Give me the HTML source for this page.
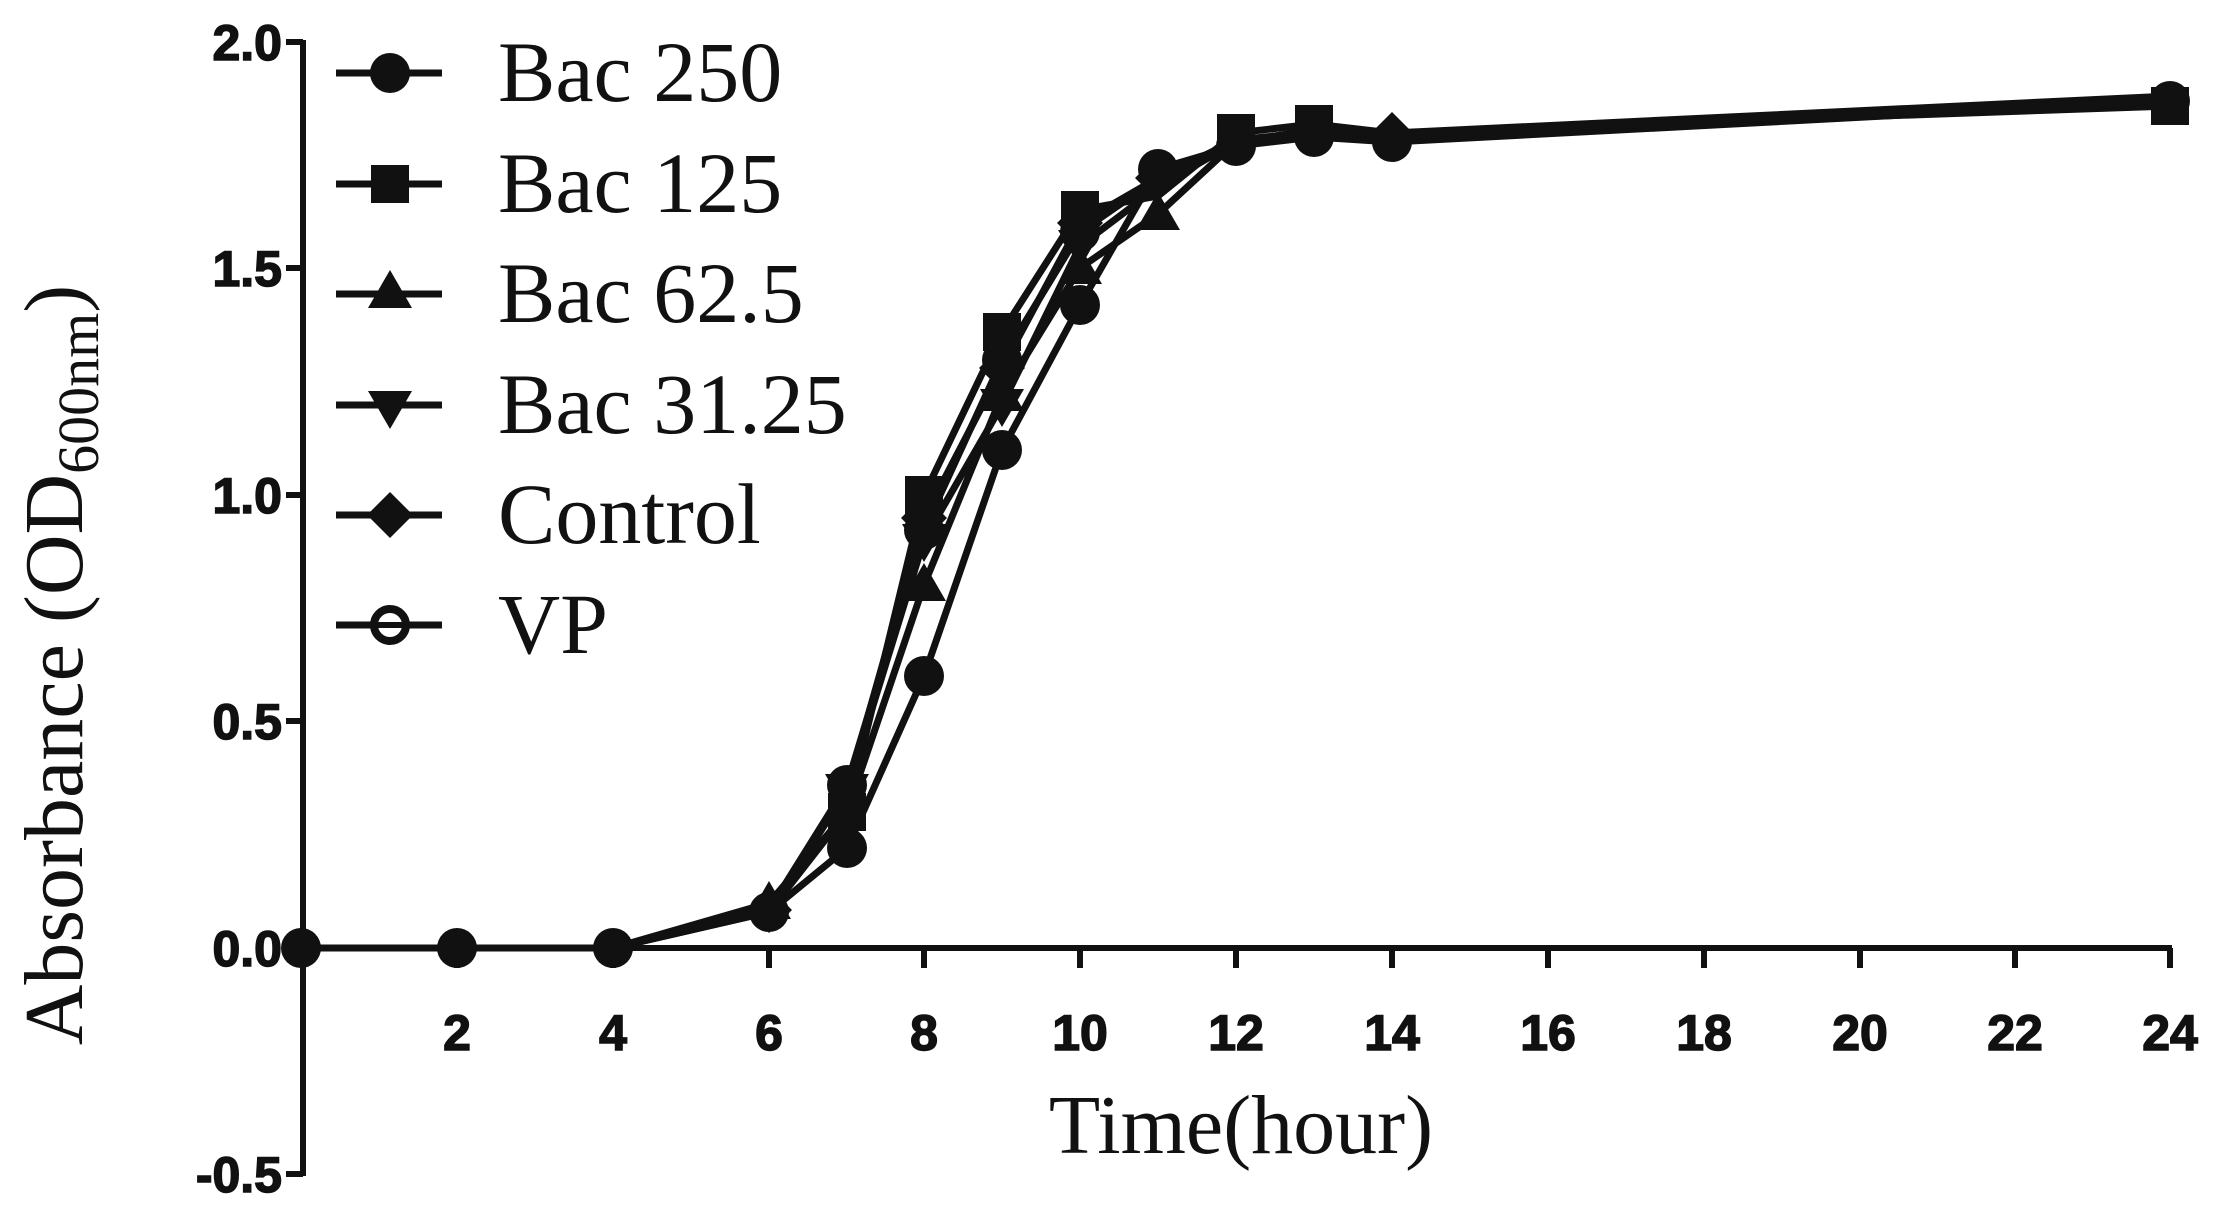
<!DOCTYPE html>
<html><head><meta charset="utf-8"><style>html,body{margin:0;padding:0;background:#fff}svg{display:block}</style></head>
<body>
<svg width="2216" height="1211" viewBox="0 0 2216 1211" xmlns="http://www.w3.org/2000/svg">
<defs>
<g id="mc"><circle r="20" fill="#111"/></g>
<g id="ms"><rect x="-19" y="-19" width="38" height="38" fill="#111"/></g>
<g id="mt"><polygon points="0,-22 22,16 -22,16" fill="#111"/></g>
<g id="mv"><polygon points="0,22 22,-16 -22,-16" fill="#111"/></g>
<g id="md"><polygon points="0,-23 23,0 0,23 -23,0" fill="#111"/></g>
<g id="mo"><circle r="16" fill="#fff" stroke="#111" stroke-width="8"/><line x1="-12" y1="0" x2="12" y2="0" stroke="#111" stroke-width="6"/></g>
</defs>
<g stroke="#111" stroke-width="6" fill="none">
<line x1="303" y1="40" x2="303" y2="1176"/>
<line x1="286" y1="42" x2="303" y2="42"/>
<line x1="286" y1="268" x2="303" y2="268"/>
<line x1="286" y1="495" x2="303" y2="495"/>
<line x1="286" y1="721" x2="303" y2="721"/>
<line x1="286" y1="948" x2="303" y2="948"/>
<line x1="286" y1="1174" x2="303" y2="1174"/>
<line x1="301" y1="948" x2="2172" y2="948"/>
<line x1="457" y1="948" x2="457" y2="968"/><line x1="613" y1="948" x2="613" y2="968"/>
<line x1="769" y1="948" x2="769" y2="968"/><line x1="924" y1="948" x2="924" y2="968"/>
<line x1="1080" y1="948" x2="1080" y2="968"/><line x1="1236" y1="948" x2="1236" y2="968"/>
<line x1="1392" y1="948" x2="1392" y2="968"/><line x1="1548" y1="948" x2="1548" y2="968"/>
<line x1="1704" y1="948" x2="1704" y2="968"/><line x1="1860" y1="948" x2="1860" y2="968"/>
<line x1="2015" y1="948" x2="2015" y2="968"/><line x1="2170" y1="948" x2="2170" y2="968"/>
</g>
<g font-family="Liberation Sans, sans-serif" font-weight="bold" font-size="50" fill="#111" text-anchor="end" stroke="#111" stroke-width="1.5">
<text x="282" y="60">2.0</text><text x="282" y="286">1.5</text><text x="282" y="513">1.0</text>
<text x="282" y="739">0.5</text><text x="282" y="966">0.0</text><text x="282" y="1192">-0.5</text>
</g>
<g font-family="Liberation Sans, sans-serif" font-weight="bold" font-size="50" fill="#111" text-anchor="middle" stroke="#111" stroke-width="1.5">
<text x="457" y="1050">2</text><text x="613" y="1050">4</text><text x="769" y="1050">6</text><text x="924" y="1050">8</text>
<text x="1080" y="1050">10</text><text x="1236" y="1050">12</text><text x="1392" y="1050">14</text><text x="1548" y="1050">16</text>
<text x="1704" y="1050">18</text><text x="1860" y="1050">20</text><text x="2015" y="1050">22</text><text x="2170" y="1050">24</text>
</g>
<text x="1241" y="1153" font-family="Liberation Serif, serif" font-size="84" fill="#111" text-anchor="middle">Time(hour)</text>
<text transform="translate(82,665) rotate(-90)" font-family="Liberation Serif, serif" font-size="84" fill="#111" text-anchor="middle">Absorbance (OD<tspan font-size="58" dy="16">600nm</tspan><tspan dy="-16">)</tspan></text>
<g stroke="#111" stroke-width="7" fill="none" stroke-linejoin="round">
<polyline points="301,948 457,948 613,948 769,912 847,848 924,676 1002,450 1080,305 1158,169 1236,146 1314,137 1392,142 2170,101"/>
<polyline points="301,948 457,948 613,948 769,912 847,812 924,495 1002,332 1080,210 1158,196 1236,133 1314,124 1392,133 2170,106"/>
<polyline points="301,948 457,948 613,948 769,903 847,812 924,585 1002,395 1080,268 1158,214 1236,142 1314,133 1392,133 2170,96"/>
<polyline points="301,948 457,948 613,948 769,912 847,790 924,540 1002,405 1080,246 1158,187 1236,142 1314,130 1392,135 2170,102"/>
<polyline points="301,948 457,948 613,948 769,910 847,790 924,518 1002,368 1080,223 1158,178 1236,142 1314,130 1392,135 2170,100"/>
<polyline points="301,948 457,948 613,948 769,910 847,785 924,530 1002,360 1080,232 1158,178 1236,140 1314,132 1392,135 2170,100"/>
</g>
<g>
<use href="#mc" x="301" y="948"/><use href="#mc" x="457" y="948"/><use href="#mc" x="613" y="948"/><use href="#mc" x="769" y="912"/><use href="#mc" x="847" y="848"/><use href="#mc" x="924" y="676"/><use href="#mc" x="1002" y="450"/><use href="#mc" x="1080" y="305"/><use href="#mc" x="1158" y="169"/><use href="#mc" x="1236" y="146"/><use href="#mc" x="1314" y="137"/><use href="#mc" x="1392" y="142"/><use href="#mc" x="2170" y="101"/>
<use href="#ms" x="924" y="495"/><use href="#ms" x="1002" y="332"/><use href="#ms" x="1080" y="210"/><use href="#ms" x="1236" y="133"/><use href="#ms" x="1314" y="124"/><use href="#ms" x="2170" y="106"/><use href="#ms" x="847" y="812"/>
<use href="#mt" x="924" y="585"/><use href="#mt" x="1002" y="395"/><use href="#mt" x="1080" y="268"/><use href="#mt" x="1158" y="214"/><use href="#mt" x="769" y="903"/>
<use href="#mv" x="924" y="540"/><use href="#mv" x="1002" y="405"/><use href="#mv" x="1080" y="246"/><use href="#mv" x="847" y="790"/>
<use href="#md" x="924" y="518"/><use href="#md" x="1002" y="368"/><use href="#md" x="1080" y="223"/><use href="#md" x="1158" y="178"/><use href="#md" x="769" y="910"/><use href="#md" x="1392" y="135"/>
<use href="#mc" x="1002" y="360"/><use href="#mc" x="1080" y="232"/><use href="#mc" x="847" y="785"/><use href="#mc" x="924" y="530"/>
</g>
<g stroke="#111" stroke-width="7">
<line x1="336" y1="73" x2="442" y2="73"/><line x1="336" y1="184" x2="442" y2="184"/>
<line x1="336" y1="294" x2="442" y2="294"/><line x1="336" y1="405" x2="442" y2="405"/>
<line x1="336" y1="515" x2="442" y2="515"/><line x1="336" y1="625" x2="442" y2="625"/>
</g>
<use href="#mc" x="390" y="73"/><use href="#ms" x="390" y="184"/><use href="#mt" x="390" y="292"/>
<use href="#mv" x="390" y="407"/><use href="#md" x="390" y="515"/><use href="#mo" x="390" y="625"/>
<g font-family="Liberation Serif, serif" font-size="86" fill="#111">
<text x="498" y="101">Bac 250</text><text x="498" y="212">Bac 125</text><text x="498" y="322">Bac 62.5</text>
<text x="498" y="433">Bac 31.25</text><text x="498" y="543">Control</text><text x="498" y="653">VP</text>
</g>
</svg>
</body></html>
